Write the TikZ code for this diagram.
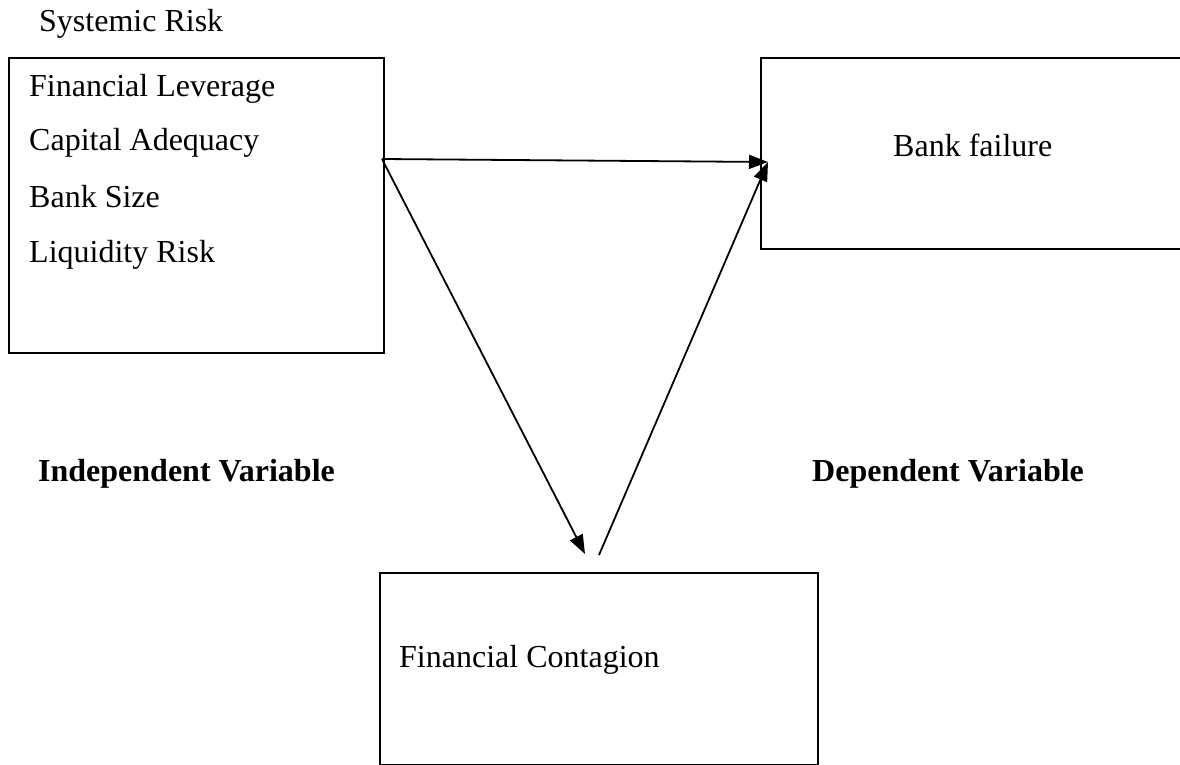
\documentclass[tikz,border=0pt]{standalone}
\usepackage{fontspec}
\setmainfont{Liberation Serif}
\usetikzlibrary{arrows.meta}

\tikzset{
  varbox/.style={draw, line width=1.6pt, anchor=north west, inner sep=0pt},
  lbl/.style={anchor=base west, inner sep=0pt, font=\fontsize{32}{38}\selectfont},
  heading/.style={lbl, font=\fontsize{32}{38}\selectfont\bfseries},
  link/.style={line width=1.8pt, -{Triangle[length=19pt,width=14pt]}}
}

\begin{document}
\begin{tikzpicture}[x=1pt,y=-1pt]

	% Page frame
	\useasboundingbox (0,0) rectangle (1180,765);
	\clip (0,0) rectangle (1180,765);

	% Title over the left box
	\node[lbl] (title) at (39,32) {Systemic Risk};

	% Left box with the systemic risk factors
	\node[varbox, minimum width=375pt, minimum height=295pt] (risk) at (8,57) {};
	\node[lbl] (lev) at (29,97) {Financial Leverage};
	\node[lbl] (cap) at (29,150) {Capital Adequacy};
	\node[lbl] (size) at (29,207) {Bank Size};
	\node[lbl] (liq) at (29,262) {Liquidity Risk};

	% Right box, cut off by the page edge
	\node[varbox, minimum width=460pt, minimum height=191pt] (fail) at (760,57) {};
	\node[lbl] (failtxt) at (893,157) {Bank failure};

	% Bottom box
	\node[varbox, minimum width=438pt, minimum height=192pt] (cont) at (379,572) {};
	\node[lbl] (conttxt) at (399,667) {Financial Contagion};

	% Variable headings
	\node[heading] (indep) at (38,481) {Independent Variable};
	\node[heading] (dep) at (812,481) {Dependent Variable};

	% Arrow end points
	\coordinate (src) at (382,159);
	\coordinate (failin) at (768,162);
	\coordinate (contin) at (585,554);
	\coordinate (contout) at (599,555);

	% Arrows
	\draw[link] (src) -- (failin);
	\draw[link] (src) -- (contin);
	\draw[link] (contout) -- (failin);

\end{tikzpicture}
\end{document}
